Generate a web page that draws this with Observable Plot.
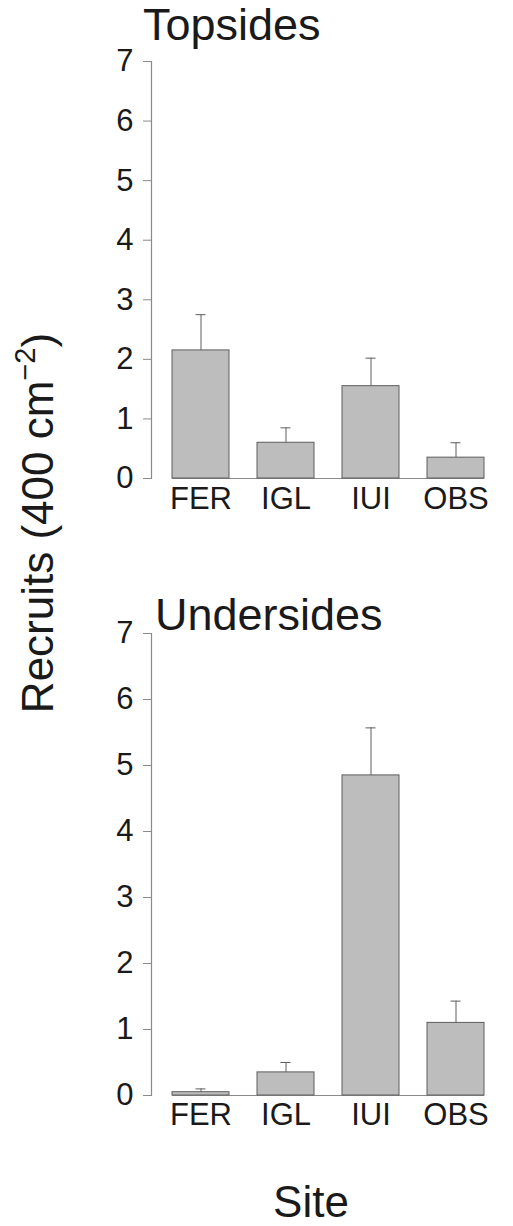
<!DOCTYPE html>
<html>
<head>
<meta charset="utf-8">
<script src="https://cdn.jsdelivr.net/npm/d3@7"></script>
<script src="https://cdn.jsdelivr.net/npm/@observablehq/plot@0.6"></script>
<style>
  html, body { margin: 0; padding: 0; background: #fff; }
  #wrap { position: relative; width: 513px; height: 1226px; font-family: "Liberation Sans", Arial, sans-serif; }
  #wrap > svg { position: absolute; left: 0; }
</style>
</head>
<body>
<div id="wrap"></div>
<script>
// ---- data ----
const sites = ["FER", "IGL", "IUI", "OBS"];
const topsideMeans = [2.15, 0.6, 1.55, 0.35];
const topsideUpper = [2.75, 0.85, 2.02, 0.6];
const undersideMeans = [0.05, 0.35, 4.85, 1.1];
const undersideUpper = [0.1, 0.5, 5.57, 1.43];
const yTicks = [0, 1, 2, 3, 4, 5, 6, 7];
const panelTitles = ["Topsides", "Undersides"];
const yLabel = "Recruits (400 cm";
const yLabelSup = "\u22122";
const xLabel = "Site";

const FONT = "'Liberation Sans', Arial, sans-serif";
const BAR_FILL = "#bdbdbd";
const BAR_STROKE = "#5e5e5e";
const AXIS_GRAY = "#8a8a8a";

function panel(means, upper, opts) {
  const rows = sites.map((s, i) => ({site: s, mean: means[i], upper: upper[i]}));
  const base = [{y: 0, a: sites[0], b: sites[sites.length - 1]}];
  return Plot.plot({
    width: 513,
    height: opts.height,
    marginLeft: 151,
    marginRight: 9,
    marginTop: opts.marginTop,
    marginBottom: opts.marginBottom,
    style: {fontFamily: FONT, fontSize: "31px", color: "#1a1a1a", background: "transparent", overflow: "visible"},
    x: {domain: sites, paddingInner: 0.333, paddingOuter: 0.234, axis: null},
    y: {domain: [0, 7], axis: null},
    marks: [
      Plot.frame({anchor: "left", stroke: AXIS_GRAY, strokeWidth: 1.2}),
      Plot.ruleY(base, {y: "y", x1: "a", x2: "b", stroke: AXIS_GRAY, strokeWidth: 1.2}),
      Plot.barY(rows, {x: "site", y: "mean", fill: BAR_FILL, stroke: BAR_STROKE, strokeWidth: 1}),
      Plot.ruleX(rows, {x: "site", y1: "mean", y2: "upper", stroke: BAR_STROKE, strokeWidth: 1}),
      Plot.tickY(rows, {x: "site", y: "upper", stroke: BAR_STROKE, strokeWidth: 1, inset: 23.5}),
      Plot.axisY({ticks: yTicks, tickFormat: d3.format("d"), tickSize: 8, tickPadding: 10, stroke: AXIS_GRAY, fill: "#1a1a1a", fontSize: 31, label: null}),
      Plot.axisX({tickSize: 0, tickPadding: opts.xPad, fill: "#1a1a1a", fontSize: 31, label: null})
    ]
  });
}

const wrap = document.getElementById("wrap");

const p1 = panel(topsideMeans, topsideUpper, {height: 530, marginTop: 61, marginBottom: 52, xPad: 8});
p1.style.top = "0px";
wrap.appendChild(p1);

const p2 = panel(undersideMeans, undersideUpper, {height: 580, marginTop: 73, marginBottom: 45, xPad: 7});
p2.style.top = "560px";
wrap.appendChild(p2);

// overlay for titles and axis labels
const overlay = d3.create("svg")
  .attr("width", 513).attr("height", 1226)
  .style("top", "0px")
  .style("pointer-events", "none")
  .attr("font-family", FONT)
  .attr("fill", "#1a1a1a");

overlay.append("text").attr("x", 143).attr("y", 40).attr("font-size", 45).text(panelTitles[0]);
overlay.append("text").attr("x", 155).attr("y", 630).attr("font-size", 45).text(panelTitles[1]);

const yl = overlay.append("text")
  .attr("transform", "translate(53,523) rotate(-90)")
  .attr("text-anchor", "middle")
  .attr("font-size", 44);
yl.append("tspan").text(yLabel);
yl.append("tspan").attr("font-size", 29).attr("dy", -18).text(yLabelSup);
yl.append("tspan").attr("dy", 18).text(")");

overlay.append("text").attr("x", 311).attr("y", 1217).attr("text-anchor", "middle").attr("font-size", 44).text(xLabel);

wrap.appendChild(overlay.node());
</script>
</body>
</html>
